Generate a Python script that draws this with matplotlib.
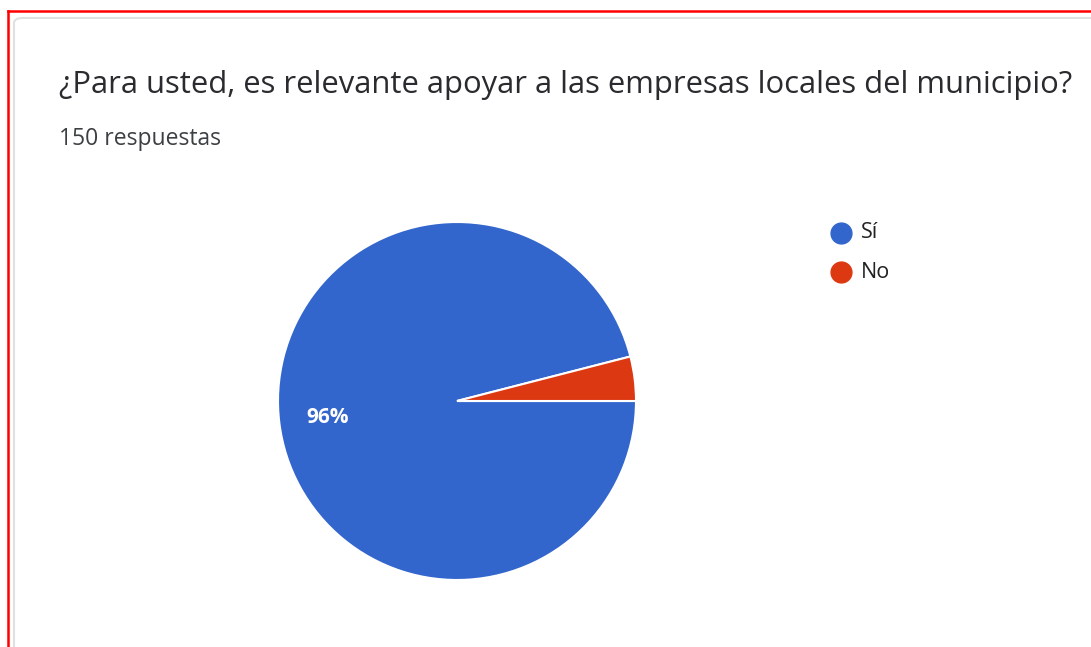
import matplotlib.pyplot as plt
from matplotlib.patches import FancyBboxPatch
from matplotlib.lines import Line2D

plt.rcParams['font.family'] = ['Open Sans', 'DejaVu Sans']

title = "¿Para usted, es relevante apoyar a las empresas locales del municipio?"
subtitle = "150 respuestas"
answers = ["Sí", "No"]
counts = [144, 6]
colors = ["#3366cc", "#dc3912"]

W, H = 1091, 647
fig = plt.figure(figsize=(W / 100, H / 100), dpi=100)
fig.patch.set_facecolor("white")

def fx(px):
    return px / W

def fy(py):
    return 1 - py / H

# card outline and the red frame around it
card = FancyBboxPatch((fx(14), fy(700)), fx(1200), fy(18) - fy(700),
                      boxstyle="round,pad=0,rounding_size=0.008",
                      transform=fig.transFigure, facecolor="white",
                      edgecolor="#e0e0e0", linewidth=1.5, zorder=-5)
fig.patches.append(card)
fig.add_artist(Line2D([fx(8), fx(1100)], [fy(10.5), fy(10.5)], color="#ff0000", lw=1.8))
fig.add_artist(Line2D([fx(8), fx(8)], [fy(10.5), fy(660)], color="#ff0000", lw=1.8))

fig.text(fx(59), fy(93), title, fontsize=22.3, color="#2a2b2e", va="baseline", ha="left")
fig.text(fx(59), fy(145), subtitle, fontsize=16.5, color="#3c4043", va="baseline", ha="left")

# pie
cx, cy, r = 457, 401, 179
ax = fig.add_axes([fx(cx - r), fy(cy + r), fx(2 * r), fy(cy - r) - fy(cy + r)], zorder=2)

wedges, _, autotexts = ax.pie(
    counts, colors=colors, startangle=0, counterclock=False, radius=1,
    wedgeprops=dict(edgecolor="white", linewidth=1.5),
    autopct=lambda p: f"{p:.0f}%" if p >= 5 else "", pctdistance=0.73,
    textprops=dict(color="white", fontsize=15, fontweight="bold"))
ax.set_xlim(-1, 1)
ax.set_ylim(-1, 1)
ax.axis("off")

# legend
for i, (name, col) in enumerate(zip(answers, colors)):
    y = 233 + i * 39
    fig.add_artist(Line2D([fx(841)], [fy(y)], marker="o", markersize=15,
                          color=col, linestyle="none"))
    fig.text(fx(861), fy(y), name, fontsize=15.5, color="#222222", va="center", ha="left")

fig.savefig("out.png", dpi=100)
